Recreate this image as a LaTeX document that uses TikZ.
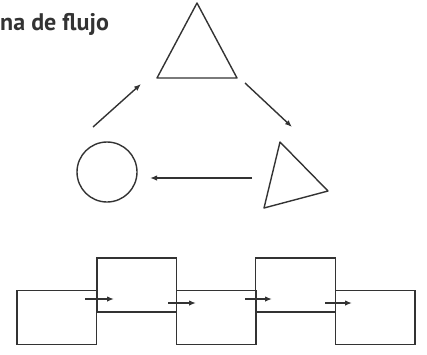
\documentclass[tikz,border=0pt]{standalone}
\usepackage{fontspec}
\newfontfamily\titlefont{PT Sans}
\usetikzlibrary{shapes.geometric,arrows.meta}
\definecolor{ink}{HTML}{333333}
\tikzset{
  shape line/.style={draw=ink,line width=1.4pt},
  flow arrow/.style={-{Latex[length=7pt,width=5.5pt]},draw=ink,line width=1.4pt},
  chain box/.style={draw=ink,line width=1.4pt,minimum height=54pt,inner sep=0pt}
}
\begin{document}
\begin{tikzpicture}[x=1pt,y={(0pt,-1pt)}]
  \useasboundingbox (0,0) rectangle (427,354);
  \node[anchor=base west,inner sep=0pt,text=ink] (title) at (0,30)
    {\titlefont\bfseries\fontsize{24}{28}\selectfont na de flujo};
  % flow cycle
  \coordinate (top a) at (197,3);
  \coordinate (top b) at (237,78);
  \coordinate (top c) at (157,78);
  \draw[shape line,line join=round] (top a) -- (top b) -- (top c) -- cycle;
  \coordinate (side a) at (280,142);
  \coordinate (side b) at (328,191);
  \coordinate (side c) at (264,208);
  \draw[shape line,line join=round] (side a) -- (side b) -- (side c) -- cycle;
  \node[circle,shape line,minimum size=60pt,inner sep=0pt] (start) at (107,172) {};
  \coordinate (up from) at (93,127);
  \coordinate (up to) at (141,84);
  \coordinate (down from) at (245,83);
  \coordinate (down to) at (292,127);
  \coordinate (back from) at (252,178);
  \coordinate (back to) at (150,178);
  \draw[flow arrow] (up from) -- (up to);
  \draw[flow arrow] (down from) -- (down to);
  \draw[flow arrow] (back from) -- (back to);
  % chain of boxes
  \foreach \i/\x/\y in {1/56.7/317.5,2/136.7/285,3/216.3/317.5,4/295.5/285,5/375.3/317.5}
    \node[chain box,minimum width=79.5pt] (box\i) at (\x,\y) {};
  \foreach \i/\a/\b/\y in {1/85/114/299,2/168/196/303,3/245/272/299,4/325/352/303} {
    \coordinate (push\i) at (\a,\y);
    \coordinate (pull\i) at (\b,\y);
    \draw[flow arrow,line width=1.8pt] (push\i) -- (pull\i);
  }
\end{tikzpicture}
\end{document}
